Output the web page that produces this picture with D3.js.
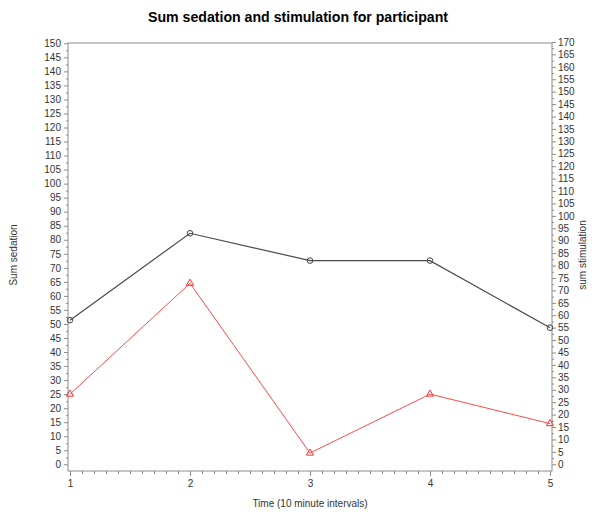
<!DOCTYPE html>
<html>
<head>
<meta charset="utf-8">
<script src="https://cdn.jsdelivr.net/npm/d3@7"></script>
<style>
  html, body { margin: 0; padding: 0; background: #fff; }
  svg text { font-family: "Liberation Sans Narrow", "Arial Narrow", "Liberation Sans", Arial, sans-serif; }
</style>
</head>
<body>
<svg id="chart" width="592" height="512"></svg>
<script>
const times = [1, 2, 3, 4, 5];
const sedation = [25, 64.5, 4, 25, 14.5];      // red, left axis
const stimulation = [58, 93, 82, 82, 55];      // black, right axis
const leftTicks = d3.range(0, 151, 5);
const rightTicks = d3.range(0, 171, 5);
const xTicks = [1, 2, 3, 4, 5];

const svg = d3.select("#chart");
const L = 68, R = 552, T = 43, B = 471;

const x = d3.scaleLinear().domain([1, 5]).range([70, 550]);
const yL = d3.scaleLinear().domain([0, 150]).range([464.3, 43.3]);
const yR = d3.scaleLinear().domain([0, 170]).range([464.3, 42]);

const axisColor = "#8c8c8c";
const textColor = "#333";

svg.append("rect").attr("x", L).attr("y", T).attr("width", R - L).attr("height", B - T)
  .attr("fill", "none").attr("stroke", axisColor).attr("stroke-width", 1);

const gL = svg.append("g").attr("transform", `translate(${L},0)`);
gL.call(d3.axisLeft(yL).tickValues(leftTicks).tickSize(4).tickPadding(3).tickFormat(d3.format("d")));
gL.append("g").call(d3.axisLeft(yL).tickValues(d3.range(2.5, 150, 5)).tickSize(2).tickFormat(""));

const gR = svg.append("g").attr("transform", `translate(${R},0)`);
gR.call(d3.axisRight(yR).tickValues(rightTicks).tickSize(4).tickPadding(2).tickFormat(d3.format("d")));
gR.append("g").call(d3.axisRight(yR).tickValues(d3.range(2.5, 170, 5)).tickSize(2).tickFormat(""));

const gB = svg.append("g").attr("transform", `translate(0,${B})`);
gB.call(d3.axisBottom(x).tickValues(xTicks).tickSize(5).tickPadding(4).tickFormat(d3.format("d")));
gB.append("g").call(d3.axisBottom(x).tickValues(d3.range(1.1, 5, 0.1).filter(v => Math.abs(v - Math.round(v)) > 0.01)).tickSize(3).tickFormat(""));

svg.selectAll(".domain").remove();
svg.selectAll(".tick line").attr("stroke", axisColor);
svg.selectAll(".tick text").attr("fill", textColor).style("font-size", "10px");

const lineL = d3.line().x((d, i) => x(times[i])).y(d => yL(d));
const lineR = d3.line().x((d, i) => x(times[i])).y(d => yR(d));

svg.append("path").datum(stimulation).attr("d", lineR)
  .attr("fill", "none").attr("stroke", "#4a4a4a").attr("stroke-width", 1.2);
svg.append("path").datum(sedation).attr("d", lineL)
  .attr("fill", "none").attr("stroke", "#ff4a4a").attr("stroke-width", 1);

svg.append("g").selectAll("circle").data(stimulation).join("circle")
  .attr("cx", (d, i) => x(times[i])).attr("cy", d => yR(d)).attr("r", 2.8)
  .attr("fill", "none").attr("stroke", "#444").attr("stroke-width", 1);

const tri = d3.symbol().type(d3.symbolTriangle).size(22);
svg.append("g").selectAll("path").data(sedation).join("path")
  .attr("d", tri)
  .attr("transform", (d, i) => `translate(${x(times[i])},${yL(d)})`)
  .attr("fill", "none").attr("stroke", "#ff3030").attr("stroke-width", 1);

svg.append("text").attr("x", 298).attr("y", 22).attr("text-anchor", "middle")
  .style("font-size", "15px").style("font-weight", "bold").attr("fill", "#000")
  .attr("textLength", 300).attr("lengthAdjust", "spacingAndGlyphs")
  .text("Sum sedation and stimulation for participant");

svg.append("text").attr("x", 310).attr("y", 507).attr("text-anchor", "middle")
  .style("font-size", "10px").attr("fill", textColor)
  .text("Time (10 minute intervals)");

svg.append("text").attr("transform", "translate(17,255) rotate(-90)").attr("text-anchor", "middle")
  .style("font-size", "10px").attr("fill", textColor).text("Sum sedation");

svg.append("text").attr("transform", "translate(586,255) rotate(-90)").attr("text-anchor", "middle")
  .style("font-size", "10px").attr("fill", textColor).text("sum stimulation");
</script>
</body>
</html>
